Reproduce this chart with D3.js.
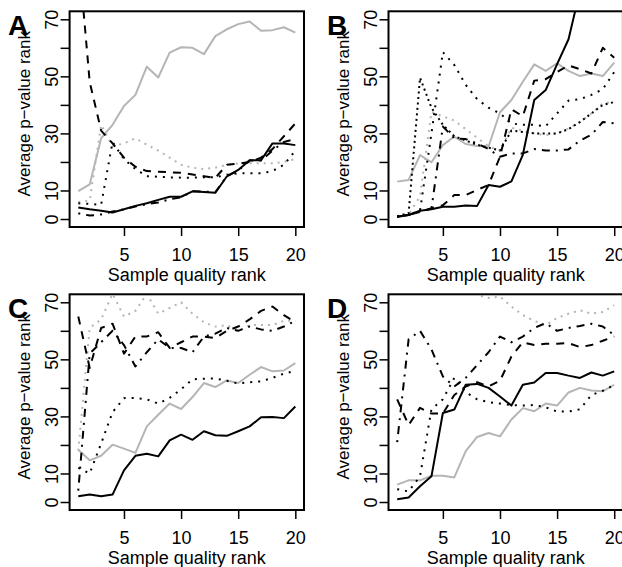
<!DOCTYPE html>
<html>
<head>
<meta charset="utf-8">
<script src="https://cdn.jsdelivr.net/npm/d3@7"></script>
<style>
body { margin: 0; background: #fff; }
svg text { font-family: "Liberation Sans", Arial, Helvetica, sans-serif; fill: #000; }
</style>
</head>
<body>
<div id="chart"></div>
<script>
// sample quality ranks on the x axis
var ranks = [1, 2, 3, 4, 5, 6, 7, 8, 9, 10, 11, 12, 13, 14, 15, 16, 17, 18, 19, 20];
var xTicks = [5, 10, 15, 20];
var yTicks = [0, 10, 20, 30, 40, 50, 60, 70];
var yTickLabels = [0, 10, 30, 50, 70];
var yRange = [0, 70];

// panel A
var aSolid = [4.0, 3.4, 2.9, 2.3, 3.4, 4.6, 5.5, 6.7, 7.8, 7.8, 9.7, 9.5, 9.2, 14.9, 17.2, 20.6, 20.6, 26.5, 26.5, 25.9];
var aDashed = [94, 48, 31, 26.5, 21.5, 18.3, 16.8, 16.6, 16.4, 16.2, 15.6, 15, 14.4, 19, 19.4, 20, 21.5, 24.5, 29, 33.5];
var aDotted = [5.5, 5.3, 5.0, 27, 21, 17.5, 15, 14.8, 14.6, 14.5, 14.5, 14.6, 14.6, 15.5, 16, 16, 16, 16.8, 19, 24];
var aDotdash = [2, 1.2, 1.6, 2.6, 3.4, 4.4, 5.2, 5.8, 6.9, 7.6, 9.7, 9.6, 9.4, 15, 17, 20.5, 20.5, 24, 27, 28];
var aGray = [9.8, 12.1, 28.3, 33, 39.6, 43.5, 53.4, 49.6, 58.3, 60.2, 60, 57.8, 64.1, 66.5, 68.3, 69.2, 66, 66.2, 67.2, 65.3];
var aGrayDotted = [6, 6.5, 33, 25.5, 26.5, 28.3, 26, 24, 21.5, 19, 18, 17.5, 18, 19, 19.5, 19.5, 19.5, 19.5, 20, 21];

// panel B
var bSolid = [0.8, 1.4, 2.9, 3.4, 4.3, 4.3, 4.7, 4.6, 11.9, 11.3, 13.2, 22.5, 41.7, 45.2, 54.3, 63, 80, 88, 95, 100];
var bDashed = [0.8, 1.4, 2.5, 3.8, 4.8, 8.4, 8.4, 10.2, 11.9, 21.8, 38.5, 36, 48.5, 49, 51.5, 53.8, 52.5, 51, 60, 56.5];
var bDotted = [1, 1.5, 3, 30, 58.5, 54, 47, 42, 39, 37, 33.5, 33, 33, 32.5, 37, 41.5, 42, 43.5, 45.5, 51.5];
var bDotted2 = [1, 2, 49.5, 39, 33, 29, 27.5, 26, 25, 24, 31, 30.5, 30, 30, 30, 31.5, 34, 37, 40, 41];
var bDotdash = [0.8, 1.4, 2.7, 3.6, 32.4, 28.3, 28, 26.5, 24.5, 21.8, 23, 23, 24.5, 24, 24, 24.4, 27.5, 29.5, 34, 33.5];
var bGray = [13.1, 13.7, 22.4, 19.9, 25.9, 28.9, 26.3, 25.6, 25.4, 37.4, 41.7, 48.1, 54.2, 51.9, 54.6, 51.9, 50.1, 51, 50.1, 54.8];
var bGrayDotted = [1, 1.5, 8, 37.5, 36, 34.5, 31.5, 28.5, 25.5, 24, 32, 31, 30, 29.4, 30, 31.7, 34, 37, 40.5, 41.1];

// panel C
var cSolid = [2, 2.6, 2, 2.6, 11.1, 16.2, 16.9, 16, 21.6, 23.6, 21.8, 24.8, 23.4, 23.2, 24.8, 26.5, 29.7, 29.8, 29.4, 33.5];
var cDashed = [65, 47, 61, 62.5, 52, 58, 58, 59.5, 54, 56, 58, 58, 57.5, 60, 61.5, 64, 67, 68.5, 65.5, 63];
var cDotted = [12, 10, 20.5, 31.5, 36.4, 36.5, 36, 34.5, 36.5, 39.5, 43, 43.2, 43.3, 42.5, 41.5, 42, 42.3, 43.5, 45, 46];
var cDotdash = [4, 52, 56, 60, 55, 47.5, 52.5, 57, 54, 54, 52.5, 58, 59, 61, 60, 61.5, 60.5, 60, 61.5, 63.5];
var cGray = [18.3, 14.6, 16.2, 20.1, 18.7, 17.2, 26.5, 30.6, 34.5, 32.6, 36.8, 41.7, 40.3, 42.6, 41.7, 44.6, 47.3, 45.8, 46.1, 48.7];
var cGrayDotted = [18, 61, 64, 73, 65, 67, 73, 66, 68, 70, 66, 63, 61.5, 62, 60, 62, 62, 62, 63.5, 63.5];

// panel D
var dSolid = [1, 1.6, 5.5, 9, 31.2, 32.4, 41.1, 41.4, 40, 37, 33.8, 41.1, 41.9, 45.2, 45.2, 44.3, 43.5, 45.4, 44.3, 45.8];
var dDashed = [36, 27, 33, 31, 31, 37.5, 40.5, 42, 40.5, 42.5, 51, 56, 55, 55.5, 55.5, 55.7, 54.3, 55, 56.5, 58];
var dDotted = [4.5, 3.7, 9, 32.5, 36, 43.5, 38.5, 36, 35, 34.5, 34, 33.8, 34, 33.2, 31.7, 31.7, 32.5, 37.5, 39, 41];
var dDotdash = [21, 57, 60, 53.5, 44, 40.5, 43.5, 48, 52.5, 58, 56, 58, 61, 62.7, 60, 61, 61.7, 62.5, 61.5, 58.5];
var dGray = [6.1, 7.6, 7.6, 9.2, 9.2, 8.6, 17.8, 22.8, 24.2, 23, 28.9, 32.9, 31.8, 34.5, 33.8, 38.4, 40, 39.1, 38.8, 41.1];
var dGrayDotted = [88, 86, 84, 82, 80, 79, 78, 72.5, 71.5, 72, 68.5, 65.5, 63.5, 62, 64.5, 66, 67.2, 66, 66.6, 69];

var panels = [
    {letter: "A", col: 0, row: 0, lines: [aGray, aGrayDotted, aDotted, null, aDotdash, aDashed, aSolid]},
    {letter: "B", col: 1, row: 0, lines: [bGray, bGrayDotted, bDotted, bDotted2, bDotdash, bDashed, bSolid]},
    {letter: "C", col: 0, row: 1, lines: [cGray, cGrayDotted, cDotted, null, cDotdash, cDashed, cSolid]},
    {letter: "D", col: 1, row: 1, lines: [dGray, dGrayDotted, dDotted, null, dDotdash, dDashed, dSolid]}
];

// line styles, same order as panels[].lines
var lineStyles = [
    {color: "#b5b5b5", dash: null},
    {color: "#b5b5b5", dash: "2,5"},
    {color: "#000", dash: "2,6"},
    {color: "#000", dash: "2,3.5"},
    {color: "#000", dash: "2,6,8,6"},
    {color: "#000", dash: "8,7"},
    {color: "#000", dash: null}
];

var colLeft = [69.6, 388.5];
var rowTop = [11.3, 294.3];
var boxW = 234.4, boxH = 215.7;

var svg = d3.select("#chart").append("svg")
    .attr("width", 622)
    .attr("height", 567);

function drawPanel(p, idx) {
    var left = colLeft[p.col], top = rowTop[p.row];
    var xPad = 0.04 * (d3.max(ranks) - d3.min(ranks));
    var yPad = 0.04 * (yRange[1] - yRange[0]);
    var x = d3.scaleLinear()
        .domain([d3.min(ranks) - xPad, d3.max(ranks) + xPad])
        .range([left, left + boxW]);
    var y = d3.scaleLinear()
        .domain([yRange[0] - yPad, yRange[1] + yPad])
        .range([top + boxH, top]);

    var g = svg.append("g");

    g.append("clipPath")
        .attr("id", "clip" + idx)
        .append("rect")
        .attr("x", left).attr("y", top)
        .attr("width", boxW).attr("height", boxH);

    var line = d3.line()
        .x(function(d, i){ return x(ranks[i]); })
        .y(function(d){ return y(d); });

    var plot = g.append("g").attr("clip-path", "url(#clip" + idx + ")");
    p.lines.forEach(function(vals, k){
        if (vals == null) return;
        var st = lineStyles[k];
        plot.append("path")
            .datum(vals)
            .attr("d", line)
            .attr("fill", "none")
            .attr("stroke", st.color)
            .attr("stroke-width", 2)
            .attr("stroke-linejoin", "round")
            .attr("stroke-dasharray", st.dash);
    });

    // box
    g.append("rect")
        .attr("x", left).attr("y", top)
        .attr("width", boxW).attr("height", boxH)
        .attr("fill", "none")
        .attr("stroke", "#000")
        .attr("stroke-width", 2);

    // x axis
    var xa = g.append("g")
        .attr("transform", "translate(0," + (top + boxH) + ")")
        .call(d3.axisBottom(x).tickValues(xTicks).tickSize(9).tickSizeOuter(0));
    xa.select(".domain").remove();
    xa.selectAll(".tick line").attr("stroke-width", 1.5);
    xa.selectAll(".tick text")
        .attr("y", 34).attr("dy", 0)
        .style("font-size", "18px");

    // y axis
    var ya = g.append("g")
        .attr("transform", "translate(" + left + ",0)")
        .call(d3.axisLeft(y).tickValues(yTicks).tickSize(9).tickSizeOuter(0)
            .tickFormat(function(d){ return yTickLabels.indexOf(d) >= 0 ? d : ""; }));
    ya.select(".domain").remove();
    ya.selectAll(".tick line").attr("stroke-width", 1.5);
    ya.selectAll(".tick text")
        .attr("x", 0).attr("dy", 0)
        .attr("y", -12)
        .attr("text-anchor", "middle")
        .attr("transform", "rotate(-90)")
        .style("font-size", "18px");

    g.append("text")
        .attr("x", left + boxW / 2)
        .attr("y", top + boxH + 54)
        .attr("text-anchor", "middle")
        .style("font-size", "18px")
        .text("Sample quality rank");

    g.append("text")
        .attr("transform", "translate(" + (left - 39.6) + "," + (top + 102.5) + ") rotate(-90)")
        .attr("text-anchor", "middle")
        .style("font-size", "17px")
        .text("Average p\u2212value rank");

    g.append("text")
        .attr("x", left - 61.5)
        .attr("y", top + 24)
        .style("font-size", "28px")
        .style("font-weight", "bold")
        .text(p.letter);
}

panels.forEach(drawPanel);
</script>
</body>
</html>
